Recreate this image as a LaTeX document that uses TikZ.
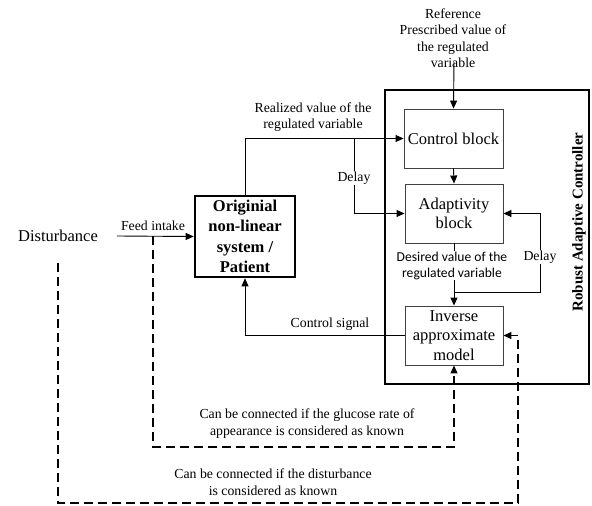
\documentclass[tikz,border=0pt]{standalone}
\usepackage{fontspec}
\setmainfont{LiberationSerif}[Extension=.ttf,UprightFont=*-Regular,BoldFont=*-Bold,ItalicFont=*-Italic,BoldItalicFont=*-BoldItalic]
\newfontfamily\calib{Carlito}
\usetikzlibrary{arrows.meta,positioning}
\begin{document}
\begin{tikzpicture}[x=1pt,y=-1pt,
  conn/.style={line width=0.9pt,-{Triangle[length=8pt,width=7pt]}},
  dconn/.style={line width=1.2pt,dash pattern=on 9pt off 5pt,-{Triangle[length=8pt,width=7pt]}},
  blk/.style={draw=black!75,line width=0.9pt,minimum width=98pt,minimum height=59pt,inner sep=0pt,align=center,font=\fontsize{16.5}{19.5}\selectfont},
  lbl/.style={align=center,inner sep=1pt,font=\fontsize{13.8}{16.5}\selectfont},
  cut/.style={fill=white,inner sep=1pt,align=center}]
\useasboundingbox (0,0) rectangle (592,506);
% frame
\node[draw,line width=2.6pt,minimum width=204pt,minimum height=294pt,inner sep=0pt] (frame) at (487,237) {};
\node[rotate=90,font=\bfseries\fontsize{15}{18}\selectfont] (rac) at (579,222) {Robust Adaptive Controller};
% blocks
\node[blk,minimum width=99pt] (ctrl) at (453.5,138.5) {Control block};
\node[blk] (adapt) at (454,213.5) {Adaptivity\\block};
\node[blk] (inv) at (454,335.5) {Inverse\\approximate\\model};
\node[draw,line width=2.6pt,minimum width=100pt,minimum height=81pt,inner sep=0pt,align=center,font=\bfseries\fontsize{16.5}{20.5}\selectfont] (pat) at (245,236.5) {Originial\\non-linear\\system /\\Patient};
\node[font=\fontsize{16.5}{20}\selectfont] (dist) at (58,236) {Disturbance};
% reference
\node[lbl] (ref) at (453,38) {Reference\\Prescribed value of\\the regulated\\variable};
\coordinate (r1) at (454,62);
\draw[conn] (r1) -- (ctrl.north);
% feed intake
\coordinate (fi) at (117,236);
\draw[conn] (fi) -- (pat.west);
\node[lbl] (feed) at (153,226) {Feed intake};
% realized
\draw[conn] (pat.north) |- (ctrl.west);
\node[lbl] (real) at (313,117) {Realized value of the\\regulated variable};
% delay 1
\coordinate (d1) at (354,138.5);
\draw[conn] (d1) |- (adapt.west);
\node[cut,font=\fontsize{13.8}{16.5}\selectfont] (delay1) at (354,178) {Delay};
% ctrl -> adapt
\draw[conn] (ctrl.south) -- (adapt.north);
% adapt -> inv
\draw[conn] (adapt.south) -- (inv.north);
\node[cut,font=\calib\fontsize{13.6}{16}\selectfont] (desired) at (452,265.5) {Desired value of the\\regulated variable};
% delay 2
\coordinate (d2) at (454,292);
\coordinate (d3) at (540,213.5);
\draw[conn] (d2) -| (d3) -- (adapt.east);
\node[cut,font=\fontsize{13.8}{16.5}\selectfont] (delay2) at (540,257) {Delay};
% control signal
\draw[conn] (inv.west) -| (pat.south);
\node[lbl] (csig) at (330,324) {Control signal};
% dashed glucose
\coordinate (g1) at (153,236);
\coordinate (g2) at (454,447);
\draw[dconn] (g1) |- (g2) -- (inv.south);
\node[lbl] (glu) at (307,423.5) {Can be connected if the glucose rate of\\appearance is considered as known};
% dashed disturbance
\coordinate (s1) at (58,263);
\coordinate (s2) at (518,503);
\draw[dconn] (s1) |- (s2) |- (inv.east);
\node[lbl] (dk) at (273,482) {Can be connected if the disturbance\\is considered as known};
\end{tikzpicture}
\end{document}
